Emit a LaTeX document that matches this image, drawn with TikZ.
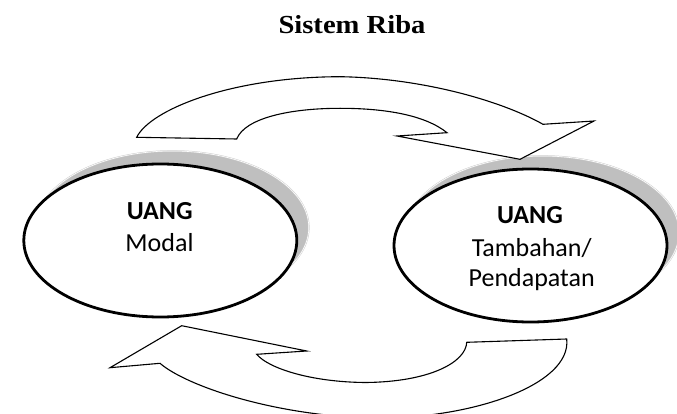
\documentclass[tikz,border=0pt]{standalone}
\usepackage{fontspec}
\setmainfont{Liberation Serif}
\newfontfamily\titlefont{Liberation Serif}[FakeStretch=1.1]
\newfontfamily\labelfont{Carlito}
\usetikzlibrary{shapes.geometric,shadows}

\tikzset{
  money/.style={ellipse, draw=black, line width=2.8pt, fill=white,
    minimum width=273pt, minimum height=153pt, inner sep=0pt,
    drop shadow={shadow xshift=12pt, shadow yshift=13pt, fill=gray!50,
      draw=gray!40, line width=0.5pt, double=white, double distance=0.6pt,
      opacity=1}},
  flow/.style={draw=black, fill=white, line width=1.1pt, line join=miter},
  word/.style={anchor=base, inner sep=0pt, font=\labelfont\fontsize{26}{30}\selectfont},
  head/.style={anchor=base, inner sep=0pt, font=\labelfont\bfseries\fontsize{26}{30}\selectfont},
  heading/.style={anchor=base, inner sep=0pt, font=\titlefont\bfseries\fontsize{26}{30}\selectfont}
}

\begin{document}
\begin{tikzpicture}[x=1pt, y=-1pt]
  \useasboundingbox (0,0) rectangle (677,414);
  \clip (0,0) rectangle (677,414);

  % title
  \node[heading] (title) at (352,33.3) {Sistem Riba};

  % the two money ellipses
  \node[money] (modal) at (160.3,240.5) {};
  \node[money] (tambah) at (530.5,245.5) {};

  % labels
  \node[head] (modalA) at (159.7,219.3) {UANG};
  \node[word] (modalB) at (159.5,251.7) {Modal};
  \node[head] (tambahA) at (530,223.3) {UANG};
  \node[word] (tambahB) at (531.7,256.7) {Tambahan/};
  \node[word] (tambahC) at (531.7,286.7) {Pendapatan};

  % upper curved block arrow: modal -> tambahan
  \draw[flow] (136.7,137.3)
    .. controls (150,110) and (230,77) .. (340,76.7)
    .. controls (420,78) and (500,100) .. (543,124.3)
    -- (594,121) -- (520,159.3) -- (397,136) -- (447,132.7)
    .. controls (425,115) and (385,108.3) .. (340,108.3)
    .. controls (290,108.3) and (245,118) .. (236.7,139)
    -- cycle;

  % lower curved block arrow: tambahan -> modal
  \draw[flow] (566.7,339) -- (466.7,342.3)
    .. controls (466,362) and (430,382) .. (365,382.5)
    .. controls (310,382) and (268,368) .. (256.7,354.3)
    -- (306.7,351) -- (181.7,325.7) -- (110,367.7) -- (160,363.3)
    .. controls (185,385) and (270,415) .. (370,418)
    .. controls (470,420) and (572,385) .. (566.7,339)
    -- cycle;
\end{tikzpicture}
\end{document}
